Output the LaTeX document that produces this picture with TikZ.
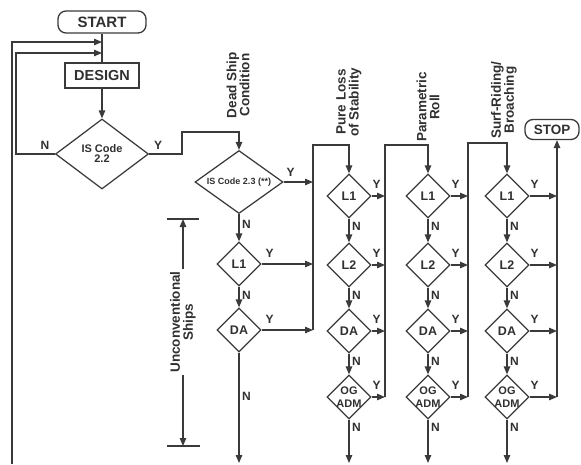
\documentclass[tikz,border=0pt]{standalone}
\usepackage{fontspec}
\setmainfont{Liberation Sans}
\usetikzlibrary{arrows.meta,shapes.geometric}
\definecolor{lc}{HTML}{3A3A3A}
\definecolor{tc}{HTML}{303030}
\tikzset{
  ln/.style={draw=lc, line width=1.25pt},
  arr/.style={ln, -{Triangle[length=8pt,width=6.5pt]}},
  dia/.style={draw=lc, line width=1.25pt, diamond, inner sep=0pt, minimum width=44pt, minimum height=44pt},
  dlab/.style={label={[font=\fontsize{12.5}{12.5}\selectfont\bfseries, text=tc, align=center, inner sep=0pt]center:#1}},
  dlabs/.style={label={[font=\fontsize{11}{12.5}\selectfont\bfseries, text=tc, align=center, inner sep=0pt]center:#1}},
  yn/.style={font=\fontsize{12}{12}\selectfont\bfseries, text=tc, inner sep=0pt},
  hdr/.style={font=\fontsize{13.5}{13}\selectfont\bfseries, text=tc, align=center, rotate=90, inner sep=0pt},
  termbox/.style={draw=lc, line width=1.3pt, rounded corners=8pt, font=\fontsize{15}{15}\selectfont\bfseries, text=tc},
}
\begin{document}
\begin{tikzpicture}[x=1pt,y=-1pt]
\useasboundingbox (0,0) rectangle (581,464);
% terminal and process boxes
\node[termbox, minimum width=88pt, minimum height=22pt] (start) at (102,22) {START};
\node[draw=lc, line width=2.2pt, minimum width=74pt, minimum height=25pt, font=\fontsize{14.5}{14.5}\selectfont\bfseries, text=tc] (design) at (102,75.5) {DESIGN};
\node[termbox, minimum width=54pt, minimum height=20pt, font=\fontsize{13.5}{13.5}\selectfont\bfseries] (stop) at (552,129.5) {STOP};
% first decisions
\node[dia, minimum width=93pt, minimum height=70pt, label={[font=\fontsize{11}{10}\selectfont\bfseries, text=tc, align=center]center:IS Code\\2.2}] (is22) at (102,154) {};
\node[dia, minimum width=88pt, minimum height=63pt, label={[font=\fontsize{9}{9}\selectfont\bfseries, text=tc]center:IS Code 2.3 (**)}] (isb) at (239,182) {};
% column A
\node[dia, dlab=L1] (aL) at (239,264) {};
\node[dia, dlab=DA] (aDA) at (239,330) {};
% column B
\node[dia, dlab=L1] (bL1) at (349,196) {};
\node[dia, dlab=L2] (bL2) at (349,265) {};
\node[dia, dlab=DA] (bDA) at (349,331) {};
\node[dia, dlabs={OG\\ADM}] (bOG) at (349,397) {};
% column C
\node[dia, dlab=L1] (cL1) at (428,196) {};
\node[dia, dlab=L2] (cL2) at (428,265) {};
\node[dia, dlab=DA] (cDA) at (428,331) {};
\node[dia, dlabs={OG\\ADM}] (cOG) at (428,397) {};
% column D
\node[dia, dlab=L1] (dL1) at (507,196) {};
\node[dia, dlab=L2] (dL2) at (507,265) {};
\node[dia, dlab=DA] (dDA) at (507,331) {};
\node[dia, dlabs={OG\\ADM}] (dOG) at (507,397) {};
% headers
\node[hdr] (hDS) at (238,85) {Dead Ship\\Condition};
\node[hdr] (hPL) at (349,102) {Pure Loss\\of Stability};
\node[hdr] (hPR) at (428,107) {Parametric\\Roll};
\node[hdr] (hSR) at (504,100) {Surf-Riding/\\Broaching};
% helper coordinates
\coordinate (m1) at (102,42);
\coordinate (m2) at (102,53);
\coordinate (ob) at (12,464);
\coordinate (ni) at (16,154);
\coordinate (yk) at (182,154);
\coordinate (yt) at (182,132);
\coordinate (cBt) at (313,145);
\coordinate (cBb) at (313,330);
\coordinate (cCt) at (385,145);
\coordinate (cCb) at (385,397);
\coordinate (cDt) at (468,143);
\coordinate (cDb) at (468,397);
\coordinate (cEb) at (557,397);
\coordinate (bot) at (0,463);
% main line
\draw[ln] (start.south) -- (design.north);
\draw[arr] (design.south) -- (is22.north);
\draw[arr] (ob) |- (m1);
\draw[arr] (is22.west) -- (ni) |- (m2);
\draw[arr] (is22.east) -- (yk) -- (yt) -| (isb.north);
% column A
\draw[arr] (isb.east) -- (isb.east -| cBt);
\draw[arr] (isb.south) -- (aL.north);
\draw[arr] (aL.south) -- (aDA.north);
\draw[arr] (aL.east) -- (aL.east -| cBt);
\draw[arr] (aDA.east) -- (aDA.east -| cBt);
\draw[arr] (aDA.south) -- (aDA.south |- bot);
\draw[arr] (cBb) -- (cBt) -| (bL1.north);
% column B
\draw[arr] (bL1.south) -- (bL2.north);
\draw[arr] (bL2.south) -- (bDA.north);
\draw[arr] (bDA.south) -- (bOG.north);
\draw[arr] (bOG.south) -- (bOG.south |- bot);
\draw[arr] (bL1.east) -- (bL1.east -| cCt);
\draw[arr] (bL2.east) -- (bL2.east -| cCt);
\draw[arr] (bDA.east) -- (bDA.east -| cCt);
\draw[arr] (bOG.east) -- (bOG.east -| cCt);
\draw[arr] (cCb) -- (cCt) -| (cL1.north);
% column C
\draw[arr] (cL1.south) -- (cL2.north);
\draw[arr] (cL2.south) -- (cDA.north);
\draw[arr] (cDA.south) -- (cOG.north);
\draw[arr] (cOG.south) -- (cOG.south |- bot);
\draw[arr] (cL1.east) -- (cL1.east -| cDt);
\draw[arr] (cL2.east) -- (cL2.east -| cDt);
\draw[arr] (cDA.east) -- (cDA.east -| cDt);
\draw[arr] (cOG.east) -- (cOG.east -| cDt);
\draw[arr] (cDb) -- (cDt) -| (dL1.north);
% column D
\draw[arr] (dL1.south) -- (dL2.north);
\draw[arr] (dL2.south) -- (dDA.north);
\draw[arr] (dDA.south) -- (dOG.north);
\draw[arr] (dOG.south) -- (dOG.south |- bot);
\draw[arr] (dL1.east) -- (dL1.east -| cEb);
\draw[arr] (dL2.east) -- (dL2.east -| cEb);
\draw[arr] (dDA.east) -- (dDA.east -| cEb);
\draw[arr] (dOG.east) -- (dOG.east -| cEb);
\draw[arr] (cEb) -- (cEb |- stop.south);
% unconventional ships dimension
\coordinate (ut) at (183,219);
\coordinate (ub) at (183,446);
\coordinate (utl) at (167,219);
\coordinate (utr) at (199,219);
\coordinate (ubl) at (167,446);
\coordinate (ubr) at (200,446);
\draw[ln] (utl) -- (utr);
\draw[ln] (ubl) -- (ubr);
\draw[ln, {Triangle[length=8pt,width=6.5pt]}-{Triangle[length=8pt,width=6.5pt]}] (ut) -- (ub);
\node[hdr, fill=white, inner sep=2pt] (uc) at (183,322) {Unconventional\\Ships};
% Y / N labels
\node[yn] (n22) at ([shift={(-10,-9)}]is22.west) {N};
\node[yn] (y22) at ([shift={(9,-9)}]is22.east) {Y};
\node[yn] (yb) at ([shift={(7,-10)}]isb.east) {Y};
\node[yn, anchor=west] (nb) at ([shift={(3,10)}]isb.south) {N};
\node[yn] (yaL) at ([shift={(8,-11)}]aL.east) {Y};
\node[yn, anchor=west] (naL) at ([shift={(3,9)}]aL.south) {N};
\node[yn] (yaD) at ([shift={(8,-11)}]aDA.east) {Y};
\node[yn, anchor=west] (naD) at (242,396) {N};
\foreach \c in {b,c,d}{
  \foreach \r in {L1,L2,DA,OG}{
    \node[yn] (y\c\r) at ([shift={(5,-12)}]\c\r.east) {Y};
    \node[yn, anchor=west] (n\c\r) at ([shift={(3,8)}]\c\r.south) {N};
  }
}
\end{tikzpicture}
\end{document}
